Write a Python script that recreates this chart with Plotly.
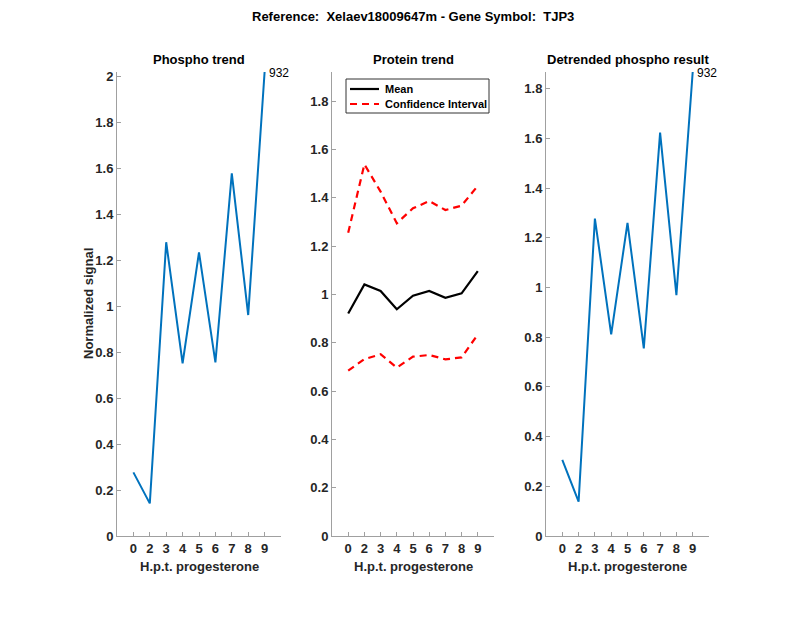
import plotly.graph_objects as go

hours = ["0", "2", "3", "4", "5", "6", "7", "8", "9"]
phospho = [0.277, 0.142, 1.279, 0.752, 1.235, 0.756, 1.579, 0.962, 2.02]
protein_mean = [0.921, 1.041, 1.014, 0.938, 0.994, 1.014, 0.986, 1.004, 1.096]
protein_upper = [1.255, 1.538, 1.425, 1.294, 1.356, 1.386, 1.349, 1.367, 1.449]
protein_lower = [0.684, 0.732, 0.752, 0.697, 0.742, 0.749, 0.731, 0.739, 0.834]
detrended = [0.306, 0.138, 1.277, 0.811, 1.260, 0.755, 1.623, 0.969, 1.867]
peptide_label = "932"
titles = ["Phospho trend", "Protein trend", "Detrended phospho result"]
main_title = "Reference:  Xelaev18009647m - Gene Symbol:  TJP3"
xlabel = "H.p.t. progesterone"
ylabel = "Normalized signal"
legend_names = ["Mean", "Confidence Interval"]

W, H = 800, 618
OFF = 8  # page body margin offset
FONT = "Liberation Sans, Arial, Helvetica, sans-serif"
TXT = "#262626"
AXC = "#a0a0a0"
BLUE = "#0072BD"

pos = list(range(1, len(hours) + 1))

fig = go.Figure()

panels = [(117, 281), (332, 494), (546, 709)]
top_px, bot_px = 72, 536
ymax = [max(phospho), 1.92, max(detrended)]


def px_x(p):
    return (p - OFF) / W


def px_y(p):
    return 1 - (p - OFF) / H


tickfont = dict(family=FONT, size=13, color=TXT, weight="bold")

for i, (l, r) in enumerate(panels):
    n = "" if i == 0 else str(i + 1)
    fig.update_layout(**{
        f"xaxis{n}": dict(
            domain=[px_x(l), px_x(r)], range=[0, 10],
            tickmode="array", tickvals=pos, ticktext=hours,
            showline=True, linecolor=AXC, linewidth=1,
            ticks="inside", ticklen=4, tickcolor=AXC,
            showgrid=False, zeroline=False, automargin=False,
            tickfont=tickfont, anchor=f"y{n}", fixedrange=True,
        ),
        f"yaxis{n}": dict(
            domain=[px_y(bot_px), px_y(top_px)], range=[0, ymax[i]],
            tickmode="linear", tick0=0, dtick=0.2,
            showline=True, linecolor=AXC, linewidth=1,
            ticks="inside", ticklen=4, tickcolor=AXC,
            showgrid=False, zeroline=False, automargin=False,
            tickfont=tickfont, anchor=f"x{n}", fixedrange=True,
        ),
    })

fig.add_trace(go.Scatter(x=pos, y=phospho, mode="lines", line=dict(color=BLUE, width=2),
                         xaxis="x", yaxis="y", showlegend=False))
fig.add_trace(go.Scatter(x=pos, y=protein_mean, mode="lines", showlegend=False,
                         line=dict(color="black", width=2.2), xaxis="x2", yaxis="y2"))
fig.add_trace(go.Scatter(x=pos, y=protein_upper, mode="lines", showlegend=False,
                         line=dict(color="red", width=2.2, dash="7px,5px"), xaxis="x2", yaxis="y2"))
fig.add_trace(go.Scatter(x=pos, y=protein_lower, mode="lines", showlegend=False,
                         line=dict(color="red", width=2.2, dash="7px,5px"), xaxis="x2", yaxis="y2"))
fig.add_trace(go.Scatter(x=pos, y=detrended, mode="lines", line=dict(color=BLUE, width=2),
                         xaxis="x3", yaxis="y3", showlegend=False))

bold13 = dict(family=FONT, size=13, color="black", weight="bold")
lab13 = dict(family=FONT, size=13, color=TXT, weight="bold")
annotations = []
for i, (l, r) in enumerate(panels):
    annotations.append(dict(text=titles[i], x=px_x((l + r) / 2), y=px_y(59.5),
                            xref="paper", yref="paper", xanchor="center", yanchor="middle",
                            showarrow=False, font=bold13))
    annotations.append(dict(text=xlabel, x=px_x((l + r) / 2), y=px_y(566),
                            xref="paper", yref="paper", xanchor="center", yanchor="middle",
                            showarrow=False, font=lab13))
annotations.append(dict(text=ylabel, x=px_x(88), y=px_y((top_px + bot_px) / 2),
                        xref="paper", yref="paper", xanchor="center", yanchor="middle",
                        textangle=-90, showarrow=False, font=lab13))
annotations.append(dict(text=main_title, x=px_x(413), y=px_y(17),
                        xref="paper", yref="paper", xanchor="center", yanchor="middle",
                        showarrow=False, font=bold13))
annotations.append(dict(text=peptide_label, x=pos[-1], y=phospho[-1], xref="x", yref="y",
                        xanchor="left", yanchor="middle", xshift=2, yshift=-1, showarrow=False,
                        font=dict(family=FONT, size=12, color="black")))
annotations.append(dict(text=peptide_label, x=pos[-1], y=detrended[-1], xref="x3", yref="y3",
                        xanchor="left", yanchor="middle", xshift=2, yshift=-1, showarrow=False,
                        font=dict(family=FONT, size=12, color="black")))

# legend box (drawn manually to match compact MATLAB legend)
leg_l, leg_r, leg_t, leg_b = 346, 489, 79, 113
shapes = [
    dict(type="rect", xref="paper", yref="paper", x0=px_x(leg_l), x1=px_x(leg_r),
         y0=px_y(leg_b), y1=px_y(leg_t), line=dict(color="#333333", width=1),
         fillcolor="white", layer="above"),
    dict(type="line", xref="paper", yref="paper", x0=px_x(350), x1=px_x(379),
         y0=px_y(89), y1=px_y(89), line=dict(color="black", width=2.2), layer="above"),
    dict(type="line", xref="paper", yref="paper", x0=px_x(350), x1=px_x(379),
         y0=px_y(104), y1=px_y(104), line=dict(color="red", width=2.2, dash="7px,5px"),
         layer="above"),
]
leg_font = dict(family=FONT, size=11, color="black", weight="bold")
for name, yy in zip(legend_names, [89, 104]):
    annotations.append(dict(text=name, x=px_x(383), y=px_y(yy), xref="paper", yref="paper",
                            xanchor="left", yanchor="middle", showarrow=False, font=leg_font))

fig.update_layout(
    width=W, height=H,
    margin=dict(l=0, r=0, t=0, b=0),
    paper_bgcolor="white", plot_bgcolor="white",
    annotations=annotations, shapes=shapes, showlegend=False,
)

fig.write_html("out.html")
